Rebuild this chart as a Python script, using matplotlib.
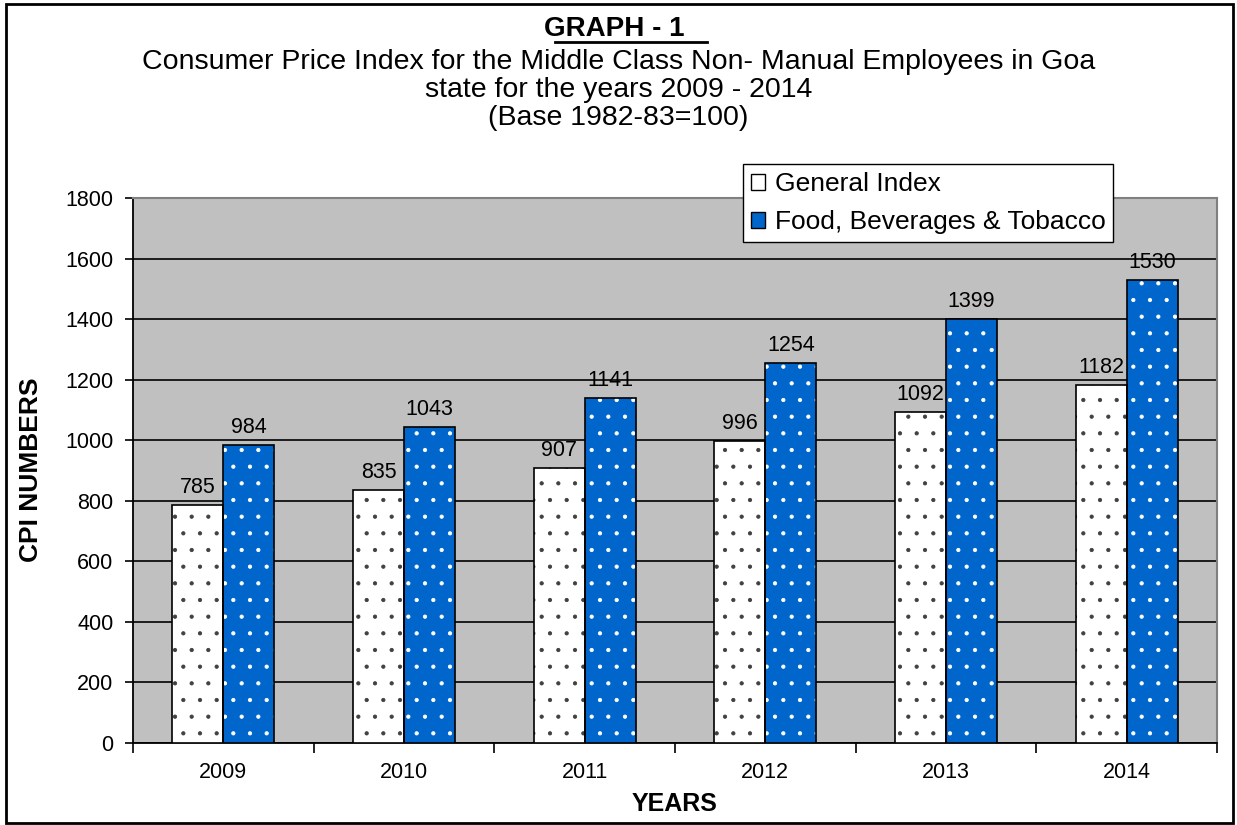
import numpy as np
import matplotlib
matplotlib.use("Agg")
import matplotlib.pyplot as plt
from matplotlib.patches import Rectangle

plt.rcParams['font.family'] = ['Liberation Sans', 'DejaVu Sans']
plt.rcParams['hatch.linewidth'] = 0.6

# data
years = ['2009', '2010', '2011', '2012', '2013', '2014']
general_index = [785, 835, 907, 996, 1092, 1182]
food_bev_tobacco = [984, 1043, 1141, 1254, 1399, 1530]
yticks = [0, 200, 400, 600, 800, 1000, 1200, 1400, 1600, 1800]

W, H = 1237, 825
fig = plt.figure(figsize=(W / 100, H / 100), dpi=100)
ax = fig.add_axes([133 / W, 1 - 743 / H, (1217 - 133) / W, (743 - 198) / H])
ax.set_facecolor('#C0C0C0')

x = np.arange(len(years))
bw = 0.282

# hatch layer then outline layer, so dot colour differs from the border
ax.bar(x - bw / 2, general_index, bw, color='white', edgecolor='#404040',
       hatch='.', linewidth=0, zorder=3)
ax.bar(x - bw / 2, general_index, bw, fill=False, edgecolor='black',
       linewidth=1.2, zorder=4)
ax.bar(x + bw / 2, food_bev_tobacco, bw, color='#0066CC', edgecolor='white',
       hatch='.', linewidth=0, zorder=3)
ax.bar(x + bw / 2, food_bev_tobacco, bw, fill=False, edgecolor='black',
       linewidth=1.2, zorder=4)

for i in range(len(years)):
    ax.annotate(str(general_index[i]), (x[i] - bw / 2, general_index[i]),
                xytext=(0, 5), textcoords='offset points', ha='center',
                va='bottom', fontsize=15.5)
    ax.annotate(str(food_bev_tobacco[i]), (x[i] + bw / 2, food_bev_tobacco[i]),
                xytext=(0, 5), textcoords='offset points', ha='center',
                va='bottom', fontsize=15.5)

ax.set_xlim(-0.5, len(years) - 0.5)
ax.set_ylim(0, 1800)
ax.set_yticks(yticks)
ax.set_yticklabels([str(v) for v in yticks], fontsize=15.5)
ax.yaxis.grid(True, color='black', linewidth=1.2, zorder=1)
ax.set_axisbelow(True)

# category labels in the middle, ticks on boundaries
ax.set_xticks(np.arange(len(years) + 1) - 0.5)
ax.set_xticklabels([])
ax.set_xticks(x, minor=True)
ax.set_xticklabels(years, minor=True, fontsize=15.5)
ax.tick_params(axis='x', which='minor', length=0, pad=14)
ax.tick_params(axis='x', which='major', length=7, width=1.2, direction='out')
ax.tick_params(axis='y', length=6, width=1.2, direction='out', pad=8)

for s in ['left', 'bottom']:
    ax.spines[s].set_color('black')
    ax.spines[s].set_linewidth(1.3)
for s in ['top', 'right']:
    ax.spines[s].set_color('#808080')
    ax.spines[s].set_linewidth(1.5)

fig.text(675 / W, 1 - 804 / H, 'YEARS', ha='center', va='center',
         fontsize=18, fontweight='bold')
fig.text(31 / W, 1 - 470 / H, 'CPI NUMBERS', ha='center', va='center',
         rotation=90, fontsize=19, fontweight='bold')

# legend
lg_handles = [Rectangle((0, 0), 1, 1, facecolor='white', edgecolor='black', linewidth=1),
              Rectangle((0, 0), 1, 1, facecolor='#0066CC', edgecolor='black', linewidth=1)]
leg = fig.legend(lg_handles, ['General Index', 'Food, Beverages & Tobacco'],
                 loc='upper left', bbox_to_anchor=(743 / W, 1 - 164 / H),
                 fontsize=19, frameon=True, fancybox=False, framealpha=1,
                 edgecolor='black', handlelength=0.55, handleheight=0.55,
                 handletextpad=0.35, borderpad=0.3, labelspacing=0.55,
                 borderaxespad=0)
leg.get_frame().set_linewidth(1.0)

# titles
fig.text(0.5, 1 - 29 / H, 'GRAPH - 1 ', ha='center', va='center', fontsize=20,
         fontweight='bold')
fig.add_artist(plt.Line2D([555 / W, 707 / W], [1 - 42 / H, 1 - 42 / H],
                          color='black', linewidth=2))
fig.text(0.5, 1 - 62 / H,
         'Consumer Price Index for the Middle Class Non- Manual Employees in Goa',
         ha='center', va='center', fontsize=20.5)
fig.text(0.5, 1 - 90 / H, 'state for the years 2009 - 2014',
         ha='center', va='center', fontsize=20.5)
fig.text(0.5, 1 - 118 / H, '(Base 1982-83=100)',
         ha='center', va='center', fontsize=20.5)

# outer border
fig.add_artist(Rectangle((6 / W, 2 / H), 1227 / W, 819 / H, transform=fig.transFigure,
                         fill=False, edgecolor='black', linewidth=2))

fig.savefig('out.png', dpi=100)
